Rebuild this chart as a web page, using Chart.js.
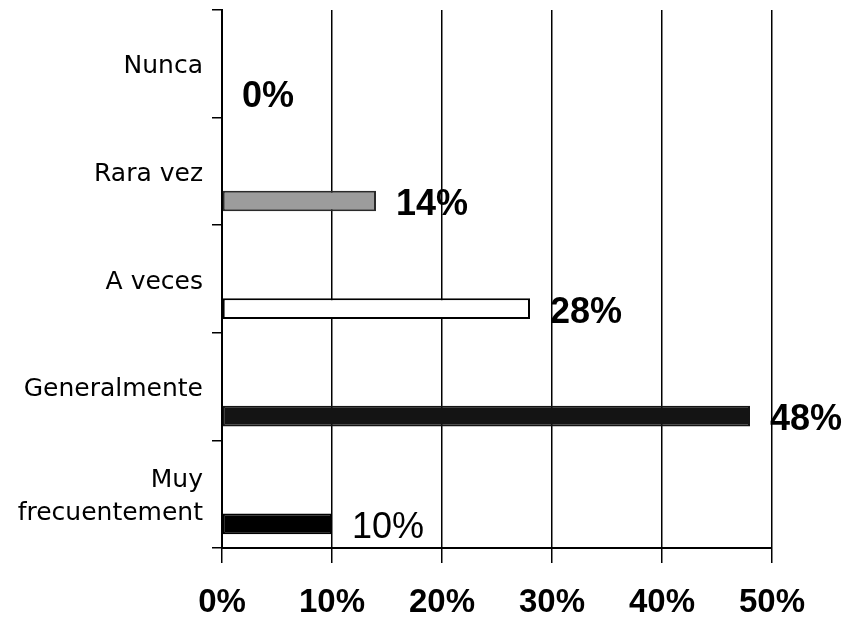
<!DOCTYPE html>
<html>
<head>
<meta charset="utf-8">
<script src="https://cdn.jsdelivr.net/npm/chart.js@4/dist/chart.umd.min.js"></script>
<style>
  body { margin: 0; background: #fff; }
  #wrap { width: 849px; height: 628px; }
</style>
</head>
<body>
<div id="wrap"><canvas id="chart"></canvas></div>
<script>
var categories = ['Nunca', 'Rara vez', 'A veces', 'Generalmente', ['Muy', 'frecuentement']];
var percentages = [0, 14, 28, 48, 10];
var tickValues = [0, 10, 20, 30, 40, 50];

var barFills = ['#000000', '#9c9c9c', '#ffffff', '#141414', '#000000'];
var barBorders = ['#000000', '#2a2a2a', '#000000', '#141414', '#000000'];
var labelWeights = ['bold', 'bold', 'bold', 'bold', 'normal'];

// draws the "14%" style label at the end of each bar
var valueLabels = {
  id: 'valueLabels',
  afterDatasetsDraw: function(chart) {
    var ctx = chart.ctx;
    var meta = chart.getDatasetMeta(1);
    ctx.save();
    ctx.fillStyle = '#000';
    ctx.textAlign = 'left';
    ctx.textBaseline = 'middle';
    meta.data.forEach(function(bar, i) {
      ctx.font = labelWeights[i] + ' 36px "Liberation Sans", Arial, sans-serif';
      ctx.fillText(percentages[i] + '%', bar.x + 20, bar.y + 4);
    });
    ctx.restore();
  }
};

var ctx = document.getElementById('chart').getContext('2d');
var chart = new Chart(ctx, {
  type: 'bar',
  data: {
    labels: categories,
    datasets: [{
      // empty slot so the real bar sits in the lower half of each row
      data: categories.map(function() { return null; }),
      backgroundColor: 'rgba(0,0,0,0)'
    }, {
      data: percentages,
      backgroundColor: barFills,
      borderColor: barBorders,
      borderWidth: 2,
      borderSkipped: false
    }]
  },
  options: {
    indexAxis: 'y',
    responsive: true,
    maintainAspectRatio: false,
    animation: false,
    datasets: {
      bar: {
        categoryPercentage: 1.1,
        barPercentage: 0.35
      }
    },
    layout: {
      padding: { top: 10, right: 77, left: 0, bottom: 0 }
    },
    plugins: {
      legend: { display: false },
      tooltip: { enabled: false }
    },
    scales: {
      x: {
        min: 0,
        max: 50,
        afterBuildTicks: function(scale) {
          scale.ticks = tickValues.map(function(v) { return { value: v }; });
        },
        afterFit: function(scale) { scale.height = 80; },
        grid: {
          color: '#000',
          lineWidth: 1.5,
          drawTicks: true,
          tickLength: 15
        },
        border: { color: '#000', width: 2 },
        ticks: {
          color: '#000',
          padding: 20,
          font: { family: '"Liberation Sans", Arial, sans-serif', size: 33, weight: 'bold' },
          callback: function(v) { return v + '%'; }
        }
      },
      y: {
        afterFit: function(scale) {
          scale.width = 222;
          scale.paddingTop = 0;
          scale.paddingBottom = 0;
        },
        grid: {
          offset: true,
          drawOnChartArea: false,
          color: '#000',
          lineWidth: 1.5,
          tickLength: 10
        },
        border: { color: '#000', width: 2 },
        ticks: {
          color: '#000',
          padding: 9,
          labelOffset: 3,
          font: { family: '"DejaVu Sans", sans-serif', size: 25, lineHeight: 1.3 }
        }
      }
    }
  },
  plugins: [valueLabels]
});
</script>
</body>
</html>
